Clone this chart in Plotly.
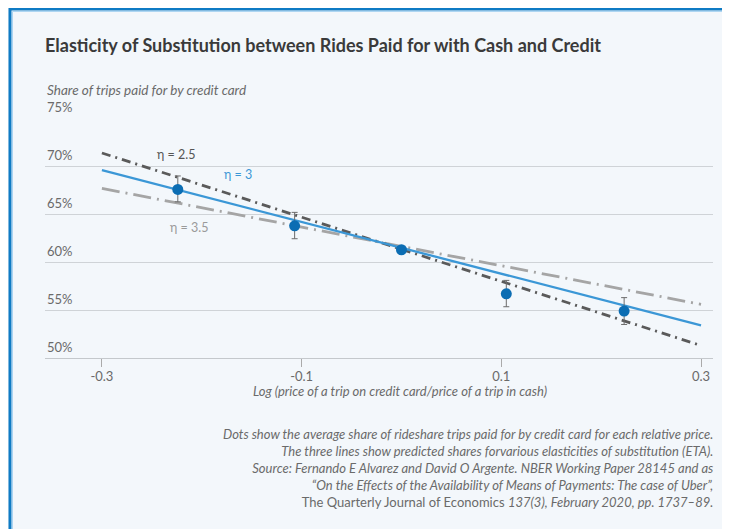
import plotly.graph_objects as go

# dots: average credit-card share by relative price
price_log = [-0.224, -0.107, 0.0, 0.105, 0.223]
share = [67.6, 63.8, 61.3, 56.7, 54.9]
err_up = [1.4, 1.4, 0.3, 1.4, 1.4]
err_down = [1.3, 1.35, 0.3, 1.35, 1.4]

# predicted shares for three elasticities
line_x = [-0.3, 0.3]
eta_25 = [71.4, 51.3]
eta_3 = [69.6, 53.4]
eta_35 = [67.7, 55.6]

x_ticks = [-0.3, -0.1, 0.1, 0.3]
y_ticks = [50, 55, 60, 65, 70, 75]

FONT = "Lato"
GREY = "#6a6a6a"
fig = go.Figure()

fig.add_trace(go.Scatter(x=line_x, y=eta_35, mode="lines",
                         line=dict(color="#a5a5a5", width=2.8, dash="18px,6px,2px,6px")))
fig.add_trace(go.Scatter(x=line_x, y=eta_25, mode="lines",
                         line=dict(color="#5a5a5a", width=2.8, dash="9px,5px,2px,5px")))
fig.add_trace(go.Scatter(x=line_x, y=eta_3, mode="lines",
                         line=dict(color="#3b97d6", width=2.3)))
fig.add_trace(go.Scatter(x=price_log, y=share, mode="markers",
                         marker=dict(color="#0b6db3", size=11),
                         error_y=dict(type="data", array=err_up, arrayminus=err_down,
                                      color="#6b6b6b", thickness=1, width=3)))

fig.add_annotation(x=-0.226, y=71.25, text="η = 2.5", showarrow=False,
                   font=dict(color="#555555", size=12.5, family=FONT))
fig.add_annotation(x=-0.164, y=69.13, text="η = 3", showarrow=False,
                   font=dict(color="#3b97d6", size=12.5, family=FONT))
fig.add_annotation(x=-0.2125, y=63.6, text="η = 3.5", showarrow=False,
                   font=dict(color="#9a9a9a", size=12.5, family=FONT))

# y tick labels sit above their gridlines
for v in y_ticks:
    fig.add_annotation(xref="paper", x=0, y=v, xanchor="left", yanchor="bottom", yshift=1,
                       text=f"{v}%", showarrow=False,
                       font=dict(color=GREY, size=13, family=FONT))

fig.add_annotation(xref="paper", yref="paper", x=0, y=1.117, xanchor="left", yanchor="middle",
                   text="<i>Share of trips paid for by credit card</i>", showarrow=False,
                   font=dict(color=GREY, size=13.5, family=FONT))

fig.add_annotation(xref="paper", yref="paper", x=0.531, y=-0.1375, xanchor="center", yanchor="middle",
                   text="<i>Log (price of a trip on credit card/price of a trip in cash)</i>",
                   showarrow=False, font=dict(color=GREY, size=13, family=FONT))

notes = ("<i>Dots show the average share of rideshare trips paid for by credit card for each relative price.</i><br>"
         "<i>The three lines show predicted shares forvarious elasticities of substitution (ETA).</i><br>"
         "<i>Source: Fernando E Alvarez and David O Argente. NBER Working Paper 28145 and as</i><br>"
         "<i>“On the Effects of the Availability of Means of Payments: The case of Uber”,</i><br>"
         "The Quarterly Journal of Economics <i>137(3), February 2020, pp. 1737–89.</i>")
fig.add_annotation(xref="paper", yref="paper", x=1.003, y=-0.274, xanchor="right", yanchor="top",
                   align="right", text=notes, showarrow=False,
                   font=dict(color=GREY, size=13, family=FONT))

# frame border (top and left visible)
fig.add_shape(type="rect", xref="paper", yref="paper", x0=-0.0524, x1=2, y0=-3, y1=1.454,
              line=dict(color="#0f7bc4", width=3), layer="below")
fig.add_shape(type="rect", xref="paper", yref="paper", x0=-0.0487, x1=2, y0=-3, y1=1.444,
              line=dict(color="#a9d4f2", width=1), layer="below")

fig.update_layout(
    width=730, height=529,
    margin=dict(l=37, r=25, t=110, b=179),
    paper_bgcolor="#f3f7fb", plot_bgcolor="#f3f7fb",
    showlegend=False,
    font=dict(family=FONT, color=GREY, size=12),
    title=dict(text="<b>Elasticity of Substitution between Rides Paid for with Cash and Credit</b>",
               x=0.0507, xanchor="left", y=0.928, yanchor="middle",
               font=dict(size=18, color="#3a3a3a", family=FONT)),
    xaxis=dict(range=[-0.357, 0.312], tickvals=x_ticks, ticktext=["-0.3", "-0.1", "0.1", "0.3"],
               showgrid=False, zeroline=False, showline=True, linecolor="#c4c8cc", linewidth=1,
               ticks="outside", ticklen=8, tickcolor="#aaaaaa", ticklabelstandoff=-2,
               tickfont=dict(size=13, color=GREY)),
    yaxis=dict(range=[50, 75.05], tickvals=y_ticks, showticklabels=False,
               showgrid=True, gridcolor="#cfd3d7", gridwidth=1, zeroline=False, ticks=""),
)

fig.write_html("out.html")
